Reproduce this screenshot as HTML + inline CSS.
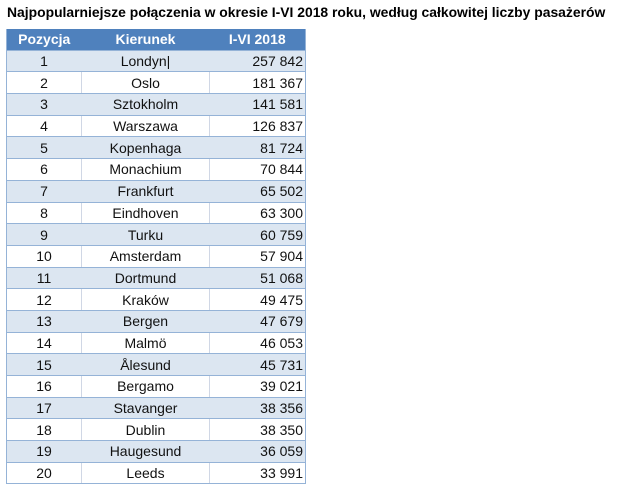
<!DOCTYPE html>
<html><head><meta charset="utf-8"><style>
body{margin:0;width:632px;height:496px;background:#fff;position:relative;overflow:hidden;font-family:"Liberation Sans",sans-serif}
.t{position:absolute;left:7px;top:4px;font-weight:bold;font-size:13.9px;color:#000;white-space:nowrap}
table{position:absolute;left:6px;top:29px;border-collapse:collapse;font-size:14px;color:#111;border-left:1px solid #95b3d7;border-right:1px solid #95b3d7}
td,th{height:20.7px;padding:0;border-bottom:1px solid #95b3d7}
th{background:#4f81bd;color:#fff;font-weight:bold;font-size:14px}
td.a{width:74px;text-align:center}
td.b{width:127px;text-align:center;border-left:1px solid #d0d7e5;border-right:1px solid #d0d7e5}
td.c{width:93px;text-align:right;padding-right:2px}
tr.o td{background:#dce6f1;border-left-color:#dce6f1;border-right-color:#dce6f1}
</style></head><body>
<div class="t">Najpopularniejsze połączenia w okresie I-VI 2018 roku, według całkowitej liczby pasażerów</div>
<table>
<tr><th style="width:74px">Pozycja</th><th style="width:127px">Kierunek</th><th style="width:95px">I-VI 2018</th></tr>
<tr class="o"><td class="a">1</td><td class="b">Londyn|</td><td class="c">257 842</td></tr>
<tr><td class="a">2</td><td class="b">Oslo</td><td class="c">181 367</td></tr>
<tr class="o"><td class="a">3</td><td class="b">Sztokholm</td><td class="c">141 581</td></tr>
<tr><td class="a">4</td><td class="b">Warszawa</td><td class="c">126 837</td></tr>
<tr class="o"><td class="a">5</td><td class="b">Kopenhaga</td><td class="c">81 724</td></tr>
<tr><td class="a">6</td><td class="b">Monachium</td><td class="c">70 844</td></tr>
<tr class="o"><td class="a">7</td><td class="b">Frankfurt</td><td class="c">65 502</td></tr>
<tr><td class="a">8</td><td class="b">Eindhoven</td><td class="c">63 300</td></tr>
<tr class="o"><td class="a">9</td><td class="b">Turku</td><td class="c">60 759</td></tr>
<tr><td class="a">10</td><td class="b">Amsterdam</td><td class="c">57 904</td></tr>
<tr class="o"><td class="a">11</td><td class="b">Dortmund</td><td class="c">51 068</td></tr>
<tr><td class="a">12</td><td class="b">Kraków</td><td class="c">49 475</td></tr>
<tr class="o"><td class="a">13</td><td class="b">Bergen</td><td class="c">47 679</td></tr>
<tr><td class="a">14</td><td class="b">Malmö</td><td class="c">46 053</td></tr>
<tr class="o"><td class="a">15</td><td class="b">Ålesund</td><td class="c">45 731</td></tr>
<tr><td class="a">16</td><td class="b">Bergamo</td><td class="c">39 021</td></tr>
<tr class="o"><td class="a">17</td><td class="b">Stavanger</td><td class="c">38 356</td></tr>
<tr><td class="a">18</td><td class="b">Dublin</td><td class="c">38 350</td></tr>
<tr class="o"><td class="a">19</td><td class="b">Haugesund</td><td class="c">36 059</td></tr>
<tr><td class="a">20</td><td class="b">Leeds</td><td class="c">33 991</td></tr>
</table>
</body></html>
